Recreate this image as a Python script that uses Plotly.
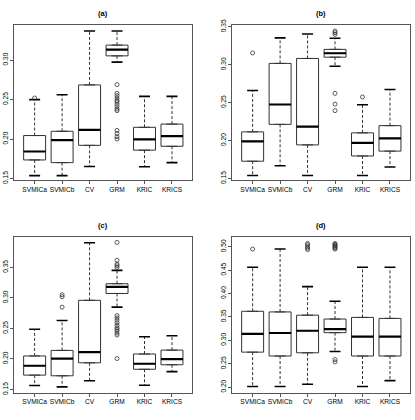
import plotly.graph_objects as go
from plotly.subplots import make_subplots

categories = ["SVMICa", "SVMICb", "CV", "GRM", "KRIC", "KRICS"]
panel_titles = ["(a)", "(b)", "(c)", "(d)"]

# Panel (a)
a_lo = [0.1537, 0.1537, 0.1653, 0.2975, 0.1649, 0.1702]
a_q1 = [0.1736, 0.1702, 0.1921, 0.3054, 0.1860, 0.1909]
a_med = [0.1843, 0.1988, 0.2116, 0.3132, 0.1996, 0.2037]
a_q3 = [0.2045, 0.2099, 0.2686, 0.3190, 0.2149, 0.2190]
a_hi = [0.2500, 0.2562, 0.3368, 0.3368, 0.2541, 0.2541]
a_out = [[0.252], [], [], [0.269, 0.258, 0.255, 0.252, 0.249, 0.247, 0.244, 0.241, 0.238, 0.236,
                         0.211, 0.207, 0.203, 0.200], [], []]

# Panel (b)
b_lo = [0.1539, 0.1668, 0.1539, 0.2980, 0.1539, 0.1651]
b_q1 = [0.1728, 0.2214, 0.1943, 0.3100, 0.1797, 0.1861]
b_med = [0.1990, 0.2476, 0.2184, 0.3152, 0.1969, 0.2029]
b_q3 = [0.2115, 0.3018, 0.3083, 0.3203, 0.2102, 0.2197]
b_hi = [0.2661, 0.3354, 0.3405, 0.3350, 0.2472, 0.2674]
b_out = [[0.3156], [], [], [0.3444, 0.3423, 0.3401, 0.2623, 0.2481, 0.2395], [0.2575], []]

# Panel (c)
c_lo = [0.1564, 0.1543, 0.1644, 0.2849, 0.1569, 0.1793]
c_q1 = [0.1735, 0.1724, 0.1937, 0.3073, 0.1831, 0.1905]
c_med = [0.1889, 0.2007, 0.2113, 0.3180, 0.1921, 0.1996]
c_q3 = [0.2049, 0.2140, 0.2961, 0.3233, 0.2081, 0.2145]
c_hi = [0.2487, 0.2631, 0.3905, 0.3452, 0.2364, 0.2380]
c_out = [[], [0.3052, 0.3020, 0.2849], [],
         [0.391, 0.3617, 0.3553, 0.3527, 0.350, 0.2711, 0.2673, 0.2636, 0.2593, 0.2551,
          0.2513, 0.2487, 0.2460, 0.2423, 0.2391, 0.2007], [], []]

# Panel (d)
d_lo = [0.2014, 0.2014, 0.2062, 0.2762, 0.2014, 0.2139]
d_q1 = [0.2748, 0.2665, 0.2734, 0.3164, 0.2665, 0.2665]
d_med = [0.3136, 0.3157, 0.3205, 0.3240, 0.3081, 0.3081]
d_q3 = [0.3621, 0.3607, 0.3538, 0.3455, 0.3490, 0.3469]
d_hi = [0.4563, 0.4951, 0.4148, 0.3836, 0.4563, 0.4563]
d_out = [[0.4951], [], [0.507, 0.504, 0.500, 0.497, 0.494],
         [0.507, 0.505, 0.503, 0.501, 0.499, 0.497, 0.495, 0.2589, 0.2540], [], []]

y_ranges = [[0.148, 0.345], [0.1478, 0.353], [0.145, 0.400], [0.1885, 0.521]]
y_ticks = [[0.15, 0.20, 0.25, 0.30], [0.15, 0.20, 0.25, 0.30, 0.35],
           [0.15, 0.20, 0.25, 0.30, 0.35], [0.20, 0.25, 0.30, 0.35, 0.40, 0.45, 0.50]]

panels = [
    (a_lo, a_q1, a_med, a_q3, a_hi, a_out),
    (b_lo, b_q1, b_med, b_q3, b_hi, b_out),
    (c_lo, c_q1, c_med, c_q3, c_hi, c_out),
    (d_lo, d_q1, d_med, d_q3, d_hi, d_out),
]

W, H = 415, 420
xdom = [[14.3 / W, 192.3 / W], [232.3 / W, 410.3 / W]]
ydom = [[(H - 179) / H, (H - 20) / H], [(H - 396) / H, (H - 237) / H]]

fig = make_subplots(rows=2, cols=2)
FONT = "Liberation Sans, Arial, Helvetica, sans-serif"
LINEC = "#333333"
BOXW = 0.8
CAPW = 0.4
pos = list(range(1, len(categories) + 1))

for k, (lo, q1, med, q3, hi, out) in enumerate(panels):
    r, c = k // 2 + 1, k % 2 + 1
    # boxes
    fig.add_trace(go.Box(x=pos, q1=q1, median=med, q3=q3, lowerfence=q1, upperfence=q3,
                         width=BOXW, fillcolor="white", line=dict(color=LINEC, width=1),
                         boxpoints=False, showlegend=False, hoverinfo="skip"), row=r, col=c)
    # whiskers (dashed)
    wx, wy = [], []
    for i, p in enumerate(pos):
        wx += [p, p, None, p, p, None]
        wy += [q3[i], hi[i], None, q1[i], lo[i], None]
    fig.add_trace(go.Scatter(x=wx, y=wy, mode="lines", line=dict(color=LINEC, width=1, dash="3px,2px"),
                             showlegend=False, hoverinfo="skip"), row=r, col=c)
    # caps
    cx, cy = [], []
    for i, p in enumerate(pos):
        cx += [p - CAPW / 2, p + CAPW / 2, None, p - CAPW / 2, p + CAPW / 2, None]
        cy += [hi[i], hi[i], None, lo[i], lo[i], None]
    fig.add_trace(go.Scatter(x=cx, y=cy, mode="lines", line=dict(color="black", width=1.6),
                             showlegend=False, hoverinfo="skip"), row=r, col=c)
    # medians
    mx, my = [], []
    for i, p in enumerate(pos):
        mx += [p - BOXW / 2, p + BOXW / 2, None]
        my += [med[i], med[i], None]
    fig.add_trace(go.Scatter(x=mx, y=my, mode="lines", line=dict(color="black", width=2.2),
                             showlegend=False, hoverinfo="skip"), row=r, col=c)
    # outliers
    ox, oy = [], []
    for i, p in enumerate(pos):
        for v in out[i]:
            ox.append(p)
            oy.append(v)
    fig.add_trace(go.Scatter(x=ox, y=oy, mode="markers",
                             marker=dict(symbol="circle-open", size=4, color="#333333", line=dict(width=0.8)),
                             showlegend=False, hoverinfo="skip"), row=r, col=c)

    fig.update_xaxes(domain=xdom[c - 1], range=[0.26, 6.74], tickmode="array", tickvals=pos,
                     ticktext=categories, showgrid=False, zeroline=False, showline=True, mirror=True,
                     linecolor="#555555", linewidth=1, ticks="outside", ticklen=3, tickcolor="#555555",
                     tickfont=dict(family=FONT, size=6.6, color="black"), row=r, col=c)
    fig.update_yaxes(domain=ydom[r - 1], range=y_ranges[k], tickmode="array", tickvals=y_ticks[k],
                     ticktext=["%.2f" % v for v in y_ticks[k]], tickangle=-90,
                     showgrid=False, zeroline=False, showline=True, mirror=True,
                     linecolor="#555555", linewidth=1, ticks="outside", ticklen=3, tickcolor="#555555",
                     tickfont=dict(family=FONT, size=6.6, color="black"), row=r, col=c)
    fig.add_annotation(text="<b>%s</b>" % panel_titles[k], xref="paper", yref="paper",
                       x=(xdom[c - 1][0] + xdom[c - 1][1]) / 2,
                       y=(H - (8.3 if r == 1 else 225)) / H, xanchor="center", yanchor="middle",
                       showarrow=False, font=dict(family=FONT, size=7.5, color="black"))

fig.update_layout(width=W, height=H, margin=dict(l=0, r=0, t=0, b=0),
                  paper_bgcolor="white", plot_bgcolor="white", showlegend=False)
fig.write_html("out.html")
